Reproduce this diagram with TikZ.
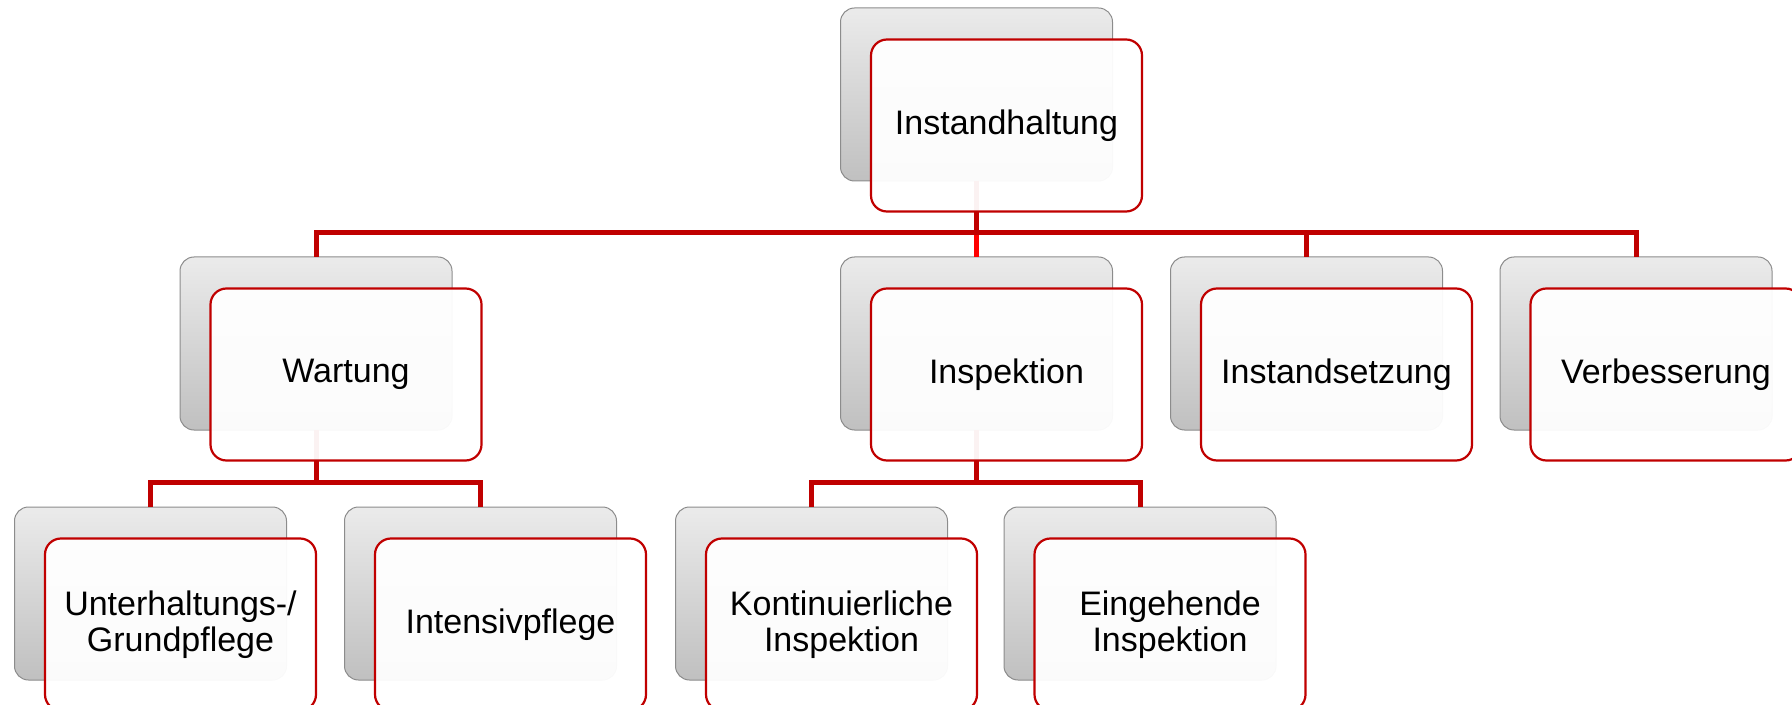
\documentclass[tikz,border=0pt]{standalone}
\usepackage{fontspec}
\setmainfont{Liberation Sans}
\usetikzlibrary{calc}
\definecolor{dred}{RGB}{192,0,0}
\definecolor{bred}{RGB}{255,0,0}
\definecolor{gtop}{RGB}{235,235,235}
\definecolor{gbot}{RGB}{192,192,192}
\definecolor{gborder}{RGB}{140,140,140}
\begin{document}
\begin{tikzpicture}[x=0.5pt,y=-0.5pt,
  graybox/.style={draw=gborder, line width=0.5pt, rounded corners=7pt,
    top color=gtop, bottom color=gbot, minimum width=136pt, minimum height=86.5pt,
    inner sep=0pt, outer sep=0pt},
  redbox/.style={draw=dred, line width=1.1pt, rounded corners=8pt, fill=white,
    fill opacity=0.95, text opacity=1, draw opacity=1,
    minimum width=135.5pt, minimum height=86pt, inner sep=0pt, outer sep=0pt,
    align=center, font=\fontsize{17}{18}\selectfont},
  conn/.style={draw=dred, line width=2.5pt},
  connb/.style={draw=bred, line width=2.5pt},
]
\useasboundingbox (0,0) rectangle (1792,705);
\clip (0,0) rectangle (1792,705);

% gray back boxes
\node[graybox] (g0) at (976.5,94.5) {};
\node[graybox] (g1) at (316,343.5) {};
\node[graybox] (g2) at (976.5,343.5) {};
\node[graybox] (g3) at (1306.5,343.5) {};
\node[graybox] (g4) at (1636,343.5) {};
\node[graybox] (g5) at (150.5,593.5) {};
\node[graybox] (g6) at (480.5,593.5) {};
\node[graybox] (g7) at (811.5,593.5) {};
\node[graybox] (g8) at (1140,593.5) {};

% bus coordinates
\coordinate (b0) at (976.5,233);
\coordinate (b1) at (316,482.5);
\coordinate (b2) at (976.5,482.5);

% connectors
\draw[connb] (g2.north) -- (b0);
\draw[conn] (g0.south) -- (b0);
\draw[conn] (g1.north) |- (b0);
\draw[conn] (g3.north) |- (b0);
\draw[conn] (g4.north) |- (b0);

\draw[conn] (g1.south) -- (b1);
\draw[conn] (g5.north) |- (b1);
\draw[conn] (g6.north) |- (b1);

\draw[conn] (g2.south) -- (b2);
\draw[conn] (g7.north) |- (b2);
\draw[conn] (g8.north) |- (b2);

% front boxes with text
\node[redbox] (r0) at ($(g0)+(30,31)$) {Instandhaltung};
\node[redbox] (r1) at ($(g1)+(30,31)$) {Wartung};
\node[redbox] (r2) at ($(g2)+(30,31)$) {Inspektion};
\node[redbox] (r3) at ($(g3)+(30,31)$) {Instandsetzung};
\node[redbox] (r4) at ($(g4)+(30,31)$) {Verbesserung};
\node[redbox] (r5) at ($(g5)+(30,31)$) {Unterhaltungs-/\\Grundpflege};
\node[redbox] (r6) at ($(g6)+(30,31)$) {Intensivpflege};
\node[redbox] (r7) at ($(g7)+(30,31)$) {Kontinuierliche\\Inspektion};
\node[redbox] (r8) at ($(g8)+(30,31)$) {Eingehende\\Inspektion};
\end{tikzpicture}
\end{document}
